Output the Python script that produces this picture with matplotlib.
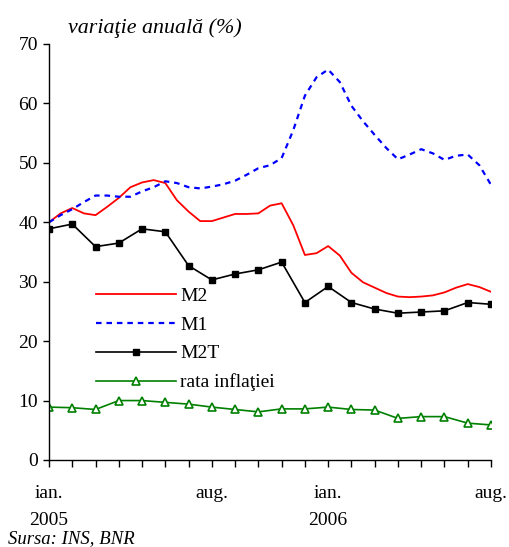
import numpy as np
import matplotlib
matplotlib.use("Agg")
import matplotlib.pyplot as plt

plt.rcParams['font.family'] = ['Liberation Serif', 'DejaVu Serif']

# monthly series, ian. 2005 .. aug. 2006
months = np.arange(20)
m2t = [38.9, 39.7, 35.9, 36.5, 38.9, 38.4, 32.7, 30.3, 31.3, 32.0,
       33.3, 26.5, 29.2, 26.5, 25.4, 24.7, 24.9, 25.1, 26.5, 26.2]
inflatie = [8.9, 8.8, 8.5, 10.0, 10.0, 9.7, 9.4, 8.9, 8.5, 8.1,
            8.6, 8.6, 8.9, 8.5, 8.4, 7.0, 7.3, 7.3, 6.2, 5.9]

# half-month series
halfmonths = np.arange(39) / 2
m2 = [40.0, 41.5, 42.4, 41.5, 41.2, 42.6, 44.1, 45.9, 46.7, 47.1,
      46.6, 43.7, 41.8, 40.2, 40.2, 40.8, 41.4, 41.4, 41.5, 42.8,
      43.2, 39.5, 34.5, 34.8, 36.0, 34.4, 31.5, 29.9, 29.0, 28.1,
      27.5, 27.4, 27.5, 27.7, 28.2, 29.0, 29.6, 29.1, 28.3]
m1 = [40.0, 41.2, 42.2, 43.4, 44.5, 44.5, 44.3, 44.3, 45.2, 45.9,
      46.9, 46.6, 45.9, 45.7, 46.0, 46.4, 47.0, 48.0, 49.1, 49.6,
      50.8, 55.5, 61.3, 64.4, 65.7, 63.6, 59.6, 57.0, 54.7, 52.5,
      50.6, 51.4, 52.3, 51.6, 50.5, 51.2, 51.4, 49.6, 46.3]

xlabels = {0: "ian.\n2005", 7: "aug.", 12: "ian.\n2006", 19: "aug."}

fs = 14
fig = plt.figure(figsize=(5.10, 5.47), dpi=100)
ax = fig.add_axes([49/510, 87/547, 442/510, 416/547])

ax.plot(halfmonths, m2, color="red", lw=1.3, label="M2")
ax.plot(halfmonths, m1, color="blue", lw=1.6, ls=(0, (2.5, 2.2)), label="M1")
ax.plot(months, m2t, color="black", lw=1.2, marker="s", ms=5, label="M2T")
ax.plot(months, inflatie, color="green", lw=1.2, marker="^", ms=5.5,
        mfc="white", mec="green", mew=1.2, label="rata inflaţiei")

ax.set_xlim(0, 19)
ax.set_ylim(0, 70)
ax.set_yticks(range(0, 71, 10))
ax.set_xticks(months)
ax.set_xticklabels([xlabels.get(m, "") for m in months], linespacing=1.75)
ax.tick_params(axis="x", direction="out", length=5, width=1, pad=13, labelsize=fs)
ax.tick_params(axis="y", direction="out", length=4, width=1, pad=4, labelsize=fs)
for s in ["top", "right"]:
    ax.spines[s].set_visible(False)
for s in ["left", "bottom"]:
    ax.spines[s].set_linewidth(1.0)

ax.legend(loc="upper left", bbox_to_anchor=(0.106, 0.415), frameon=False,
          fontsize=fs, handlelength=4.1, handletextpad=0.25, labelspacing=0.57,
          borderpad=0, borderaxespad=0)

fig.text(68/510, 1 - 28/547, "variaţie anuală (%)", fontsize=15.8, style="italic",
         va="center", ha="left")
fig.text(8/510, 1 - 539/547, "Sursa: INS, BNR", fontsize=13.5, style="italic",
         va="center", ha="left")

fig.savefig("out.png", dpi=100)
